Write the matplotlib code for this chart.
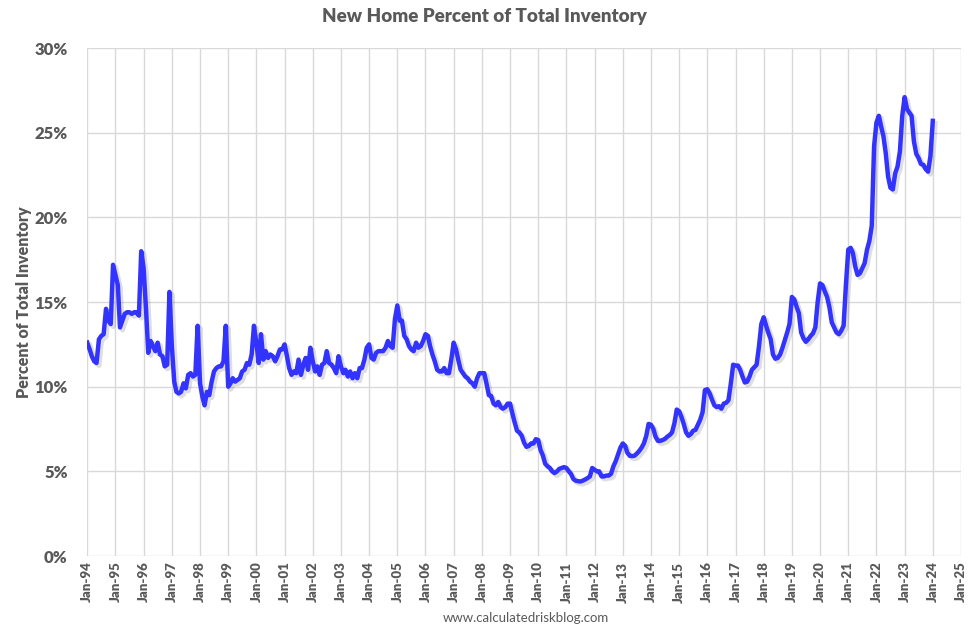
#!/usr/bin/env python3
"""New Home Percent of Total Inventory, monthly, Jan-94 to Jan-24."""

import matplotlib
matplotlib.use("Agg")
import matplotlib.pyplot as plt
import matplotlib.dates as mdates
import matplotlib.patheffects as pe
from matplotlib.ticker import PercentFormatter, MultipleLocator
import pandas as pd

# monthly values (%), one row per year, starting Jan 1994
pct_1994_2001 = [
    12.6, 12.2, 11.8, 11.5, 11.4, 12.8, 13.0, 13.1, 14.6, 13.9, 13.7, 17.2,
    16.6, 16.0, 13.5, 13.9, 14.3, 14.4, 14.4, 14.3, 14.4, 14.4, 14.2, 18.0,
    17.0, 14.6, 12.0, 12.7, 12.4, 12.1, 12.6, 11.9, 11.8, 11.2, 11.3, 15.6,
    12.4, 10.3, 9.7, 9.6, 9.7, 10.2, 9.9, 10.7, 10.8, 10.6, 10.7, 13.6,
    10.2, 9.4, 8.9, 9.7, 9.5, 10.3, 10.9, 11.1, 11.2, 11.2, 11.5, 13.6,
    10.0, 10.2, 10.5, 10.3, 10.4, 10.5, 10.9, 11.0, 11.4, 11.3, 11.9, 13.6,
    12.6, 11.4, 13.1, 11.6, 12.1, 11.7, 11.9, 11.8, 11.5, 11.8, 12.2, 12.2,
    12.5, 11.8, 11.1, 10.7, 10.9, 10.8, 11.6, 10.7, 11.3, 11.7, 11.0, 12.3,
]
pct_2002_2009 = [
    11.5, 10.9, 11.2, 10.7, 11.3, 11.4, 12.1, 11.4, 11.3, 11.1, 10.8, 11.8,
    11.2, 10.8, 11.0, 10.6, 10.9, 10.5, 10.8, 10.5, 11.1, 11.1, 11.6, 12.3,
    12.5, 11.7, 11.6, 12.0, 12.1, 12.1, 12.1, 12.3, 12.7, 12.4, 12.3, 14.0,
    14.8, 13.9, 13.9, 13.0, 12.8, 12.4, 12.2, 12.1, 12.6, 12.3, 12.4, 12.7,
    13.1, 13.0, 12.4, 11.9, 11.5, 11.0, 10.9, 10.9, 11.1, 10.8, 10.8, 11.6,
    12.6, 12.2, 11.6, 11.0, 10.8, 10.6, 10.5, 10.3, 10.2, 10.0, 10.5, 10.8,
    10.8, 10.8, 10.2, 9.5, 9.45, 9.0, 8.9, 9.1, 8.8, 8.7, 8.8, 9.0,
    9.0, 8.4, 7.9, 7.4, 7.3, 7.1, 6.7, 6.45, 6.5, 6.65, 6.65, 6.9,
]
pct_2010_2017 = [
    6.85, 6.25, 5.95, 5.45, 5.3, 5.2, 5.0, 4.9, 5.0, 5.15, 5.2, 5.25,
    5.2, 5.0, 4.85, 4.55, 4.45, 4.42, 4.4, 4.45, 4.52, 4.6, 4.7, 5.2,
    5.1, 5.0, 5.0, 4.7, 4.7, 4.75, 4.75, 4.85, 5.3, 5.6, 6.0, 6.4,
    6.65, 6.5, 6.1, 5.92, 5.9, 5.92, 6.05, 6.2, 6.4, 6.65, 7.1, 7.8,
    7.75, 7.5, 7.05, 6.8, 6.8, 6.85, 6.92, 7.05, 7.15, 7.3, 7.85, 8.65,
    8.55, 8.2, 7.8, 7.3, 7.1, 7.2, 7.4, 7.45, 7.75, 8.05, 8.5, 9.8,
    9.85, 9.6, 9.25, 8.9, 8.8, 8.85, 8.7, 9.0, 9.05, 9.2, 10.2, 11.3,
    11.25, 11.25, 11.0, 10.6, 10.25, 10.3, 10.6, 11.0, 11.15, 11.3, 12.4, 13.7,
]
pct_2018_2024 = [
    14.1, 13.6, 13.2, 12.8, 11.9, 11.65, 11.7, 11.9, 12.3, 12.75, 13.2, 13.7,
    15.3, 15.15, 14.75, 14.35, 13.2, 12.85, 12.65, 12.8, 13.0, 13.15, 13.5, 15.0,
    16.1, 16.0, 15.65, 15.3, 14.7, 13.8, 13.5, 13.2, 13.1, 13.3, 13.6, 16.0,
    18.1, 18.2, 17.9, 17.1, 16.6, 16.7, 17.0, 17.3, 18.1, 18.6, 19.5, 24.2,
    25.6, 26.0, 25.4, 24.8, 23.8, 22.4, 21.75, 21.65, 22.6, 23.0, 23.9, 26.0,
    27.1, 26.4, 26.2, 26.0, 24.5, 23.75, 23.5, 23.15, 23.1, 22.85, 22.7, 23.6,
    25.7,
]

values = pct_1994_2001 + pct_2002_2009 + pct_2010_2017 + pct_2018_2024
dates = pd.date_range("1994-01-01", periods=len(values), freq="MS")

TEXT = "#595959"
GRID = "#D9D9D9"
LINE = "#3333FF"
FONT = "Lato"

fig = plt.figure(figsize=(9.73, 6.33), dpi=100)
ax = fig.add_axes([0.0897, 0.1216, 0.898, 0.8025])

ax.plot(dates, values, color=LINE, lw=3.2, solid_joinstyle="round",
        path_effects=[pe.SimpleLineShadow(offset=(1.8, -1.8), shadow_color="k",
                                          alpha=0.13, linewidth=3.6),
                      pe.Normal()])

ax.set_xlim(pd.Timestamp("1994-01-01"), pd.Timestamp("2025-01-01"))
ax.set_ylim(0, 30)
ax.yaxis.set_major_locator(MultipleLocator(5))
ax.yaxis.set_major_formatter(PercentFormatter(decimals=0))
ax.xaxis.set_major_locator(mdates.YearLocator(1, month=1, day=1))
ax.xaxis.set_major_formatter(mdates.DateFormatter("%b-%y"))

ax.grid(True, color=GRID, lw=1.0)
ax.set_axisbelow(True)
for s in ax.spines.values():
    s.set_visible(False)
ax.tick_params(axis="both", length=0, colors=TEXT)
ax.tick_params(axis="x", pad=4)
ax.tick_params(axis="y", pad=14)

for lab in ax.get_yticklabels():
    lab.set_fontfamily(FONT)
    lab.set_fontweight("heavy")
    lab.set_fontsize(12)
for lab in ax.get_xticklabels():
    lab.set_fontfamily(FONT)
    lab.set_fontweight("heavy")
    lab.set_fontsize(9.5)
    lab.set_rotation(90)

ax.set_ylabel("Percent of Total Inventory", color=TEXT, fontsize=11.5,
              fontweight="heavy", fontfamily=FONT, labelpad=2)

fig.text(0.498, 0.974, "New Home Percent of Total Inventory", ha="center",
         va="center", color=TEXT, fontsize=13.5, fontweight="heavy", fontfamily=FONT)
fig.text(0.54, 0.024, "www.calculatedriskblog.com", ha="center", va="center",
         color=TEXT, fontsize=9.5, fontfamily=FONT)

fig.savefig("out.png", dpi=100)
